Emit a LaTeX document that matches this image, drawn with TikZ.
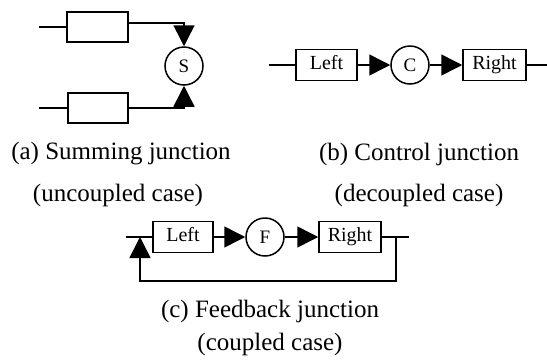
\documentclass[tikz,border=0pt]{standalone}
\usepackage{fontspec}
\setmainfont{Liberation Serif}
\usetikzlibrary{arrows.meta}
\begin{document}
\begin{tikzpicture}[x=1pt,y=-1pt,
  every path/.style={line width=1.5pt},
  blk/.style={draw,line width=1.5pt,inner sep=0pt,minimum height=30pt,text height=13pt,text depth=4.5pt,font=\fontsize{20}{22}\selectfont},
  junc/.style={draw,circle,line width=1.5pt,inner sep=0pt,minimum size=38pt,font=\fontsize{19}{21}\selectfont},
  captext/.style={inner sep=0pt,font=\fontsize{25}{28}\selectfont},
  tri/.style={-{Triangle[length=21pt,width=21pt]}}
]
\useasboundingbox (0,0) rectangle (547,360);
% (a) summing junction
\node[blk,minimum width=61pt] (a1) at (97.5,27) {};
\node[blk,minimum width=60pt] (a2) at (98,108) {};
\node[junc] (S) at (184,66) {S};
\coordinate (a1in) at (39,27);
\coordinate (a2in) at (39,108);
\draw (a1in) -- (a1.west);
\draw (a2in) -- (a2.west);
\draw[tri] ([yshift=4pt]a1.east) -| (S.north);
\draw[tri] (a2.east) -| (S.south);
% (b) control junction
\node[blk,minimum width=61pt,minimum height=31pt] (bL) at (326.5,65) {Left};
\node[junc] (C) at (410,65) {C};
\node[blk,minimum width=63pt,minimum height=31pt] (bR) at (494.5,65) {Right};
\coordinate (bin) at (269,65);
\coordinate (bout) at (547,65);
\draw (bin) -- (bL.west);
\draw[tri] (bL.east) -- (C.west);
\draw[tri] (C.east) -- (bR.west);
\draw (bR.east) -- (bout);
% (c) feedback junction
\node[blk,minimum width=60pt,minimum height=31pt] (cL) at (183,237) {Left};
\node[junc] (F) at (265,237) {F};
\node[blk,minimum width=62pt,minimum height=31pt] (cR) at (350,237) {Right};
\coordinate (cin) at (126,237);
\coordinate (cout) at (409,237);
\coordinate (fbR) at (396,237);
\coordinate (fbL) at (140,237);
\draw (cin) -- (cL.west);
\draw[tri] (cL.east) -- (F.west);
\draw[tri] (F.east) -- (cR.west);
\draw (cR.east) -- (cout);
\draw[tri] (fbR) -- ++(0,44) -| (fbL);
% captions
\node[captext] (capa1) at (121,154) {(a) Summing junction};
\node[captext] (capa2) at (118,195) {(uncoupled case)};
\node[captext] (capb1) at (419,154) {(b) Control junction};
\node[captext] (capb2) at (419,195) {(decoupled case)};
\node[captext] (capc1) at (270,311) {(c) Feedback junction};
\node[captext] (capc2) at (270,344) {(coupled case)};
\end{tikzpicture}
\end{document}
